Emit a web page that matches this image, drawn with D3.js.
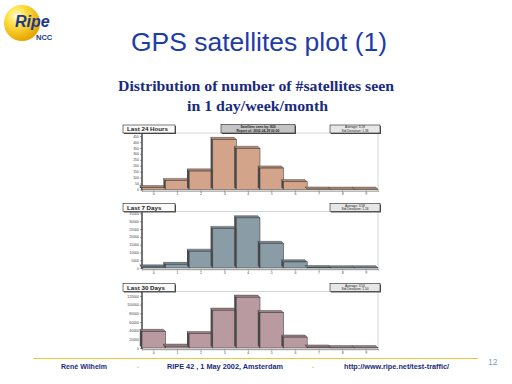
<!DOCTYPE html>
<html>
<head>
<meta charset="utf-8">
<script src="https://cdn.jsdelivr.net/npm/d3@7"></script>
<style>
  body { margin: 0; background: #fff; }
  svg { display: block; }
</style>
</head>
<body>
<svg id="slide" width="512" height="384"></svg>
<script>
// satellite counts 0..9
const categories = [0, 1, 2, 3, 4, 5, 6, 7, 8, 9];
const hours24 = [15, 75, 155, 420, 345, 180, 65, 3, 2, 2];
const days7 = [600, 2200, 10700, 25300, 32200, 15700, 3900, 200, 100, 100];
const days30 = [38000, 4000, 33000, 87000, 117000, 81500, 25000, 2000, 500, 500];

const ticks24 = [0, 50, 100, 150, 200, 250, 300, 350, 400, 450];
const ticks7 = [0, 5000, 10000, 15000, 20000, 25000, 30000, 35000];
const ticks30 = [0, 20000, 40000, 60000, 80000, 100000, 120000];

const periodLabels = ["Last 24 Hours", "Last 7 Days", "Last 30 Days"];
const statLabels = [
  ["Average: 3.18", "Std Deviation: 1.36"],
  ["Average: 3.58", "Std Deviation: 1.26"],
  ["Average: 3.54", "Std Deviation: 1.50"]
];
const reportLabels = ["Satellites seen by: 820", "Report of: 2002-04-29 00:00"];

const svg = d3.select("#slide");

// logo
const defs = svg.append("defs");
const grad = defs.append("radialGradient").attr("id", "ball")
  .attr("cx", "35%").attr("cy", "30%").attr("r", "70%");
grad.append("stop").attr("offset", "0%").attr("stop-color", "#fffbe0");
grad.append("stop").attr("offset", "35%").attr("stop-color", "#ffe34a");
grad.append("stop").attr("offset", "100%").attr("stop-color", "#e8a500");
svg.append("circle").attr("cx", 22).attr("cy", 23).attr("r", 18).attr("fill", "url(#ball)");
svg.append("text").attr("x", 15).attr("y", 27)
  .attr("font-family", "Liberation Sans, Arial").attr("font-weight", "bold").attr("font-style", "italic")
  .attr("font-size", 16).attr("fill", "#1a3890").text("Ripe");
svg.append("text").attr("x", 36).attr("y", 40)
  .attr("font-family", "Liberation Sans, Arial").attr("font-weight", "bold")
  .attr("font-size", 7.5).attr("fill", "#1a3890").text("NCC");

// titles
svg.append("text").attr("x", 131).attr("y", 51)
  .attr("font-family", "Liberation Sans, Arial").attr("font-size", 26)
  .attr("textLength", 256).attr("lengthAdjust", "spacingAndGlyphs")
  .attr("fill", "#1e3ca8").text("GPS satellites plot (1)");
svg.append("text").attr("x", 118).attr("y", 91)
  .attr("font-family", "Liberation Serif, Times New Roman").attr("font-weight", "bold").attr("font-size", 15)
  .attr("textLength", 276).attr("lengthAdjust", "spacingAndGlyphs")
  .attr("fill", "#182a80").text("Distribution of number of #satellites seen");
svg.append("text").attr("x", 187).attr("y", 111)
  .attr("font-family", "Liberation Serif, Times New Roman").attr("font-weight", "bold").attr("font-size", 15)
  .attr("textLength", 141).attr("lengthAdjust", "spacingAndGlyphs")
  .attr("fill", "#182a80").text("in 1 day/week/month");

// one histogram panel
function panel(opts) {
  const g = svg.append("g");
  const left = 142, right = 378;
  const x = d3.scaleBand().domain(categories).range([left, right]).padding(0);
  const y = d3.scaleLinear().domain([0, opts.ticks[opts.ticks.length - 1]]).range([opts.base, opts.topTick]);

  // frame
  g.append("rect").attr("x", left).attr("y", opts.top)
    .attr("width", right - left).attr("height", opts.base - opts.top + 2)
    .attr("fill", "#fff").attr("stroke", "#bbb").attr("stroke-width", 0.6);

  // y axis
  const yAxis = d3.axisLeft(y).tickValues(opts.ticks).tickFormat(d3.format("d")).tickSize(2).tickPadding(1);
  const ya = g.append("g").attr("transform", `translate(${left},0)`).call(yAxis);
  ya.select(".domain").attr("stroke", "#000").attr("stroke-width", 1);
  ya.selectAll("text").attr("font-size", 3.5).attr("fill", "#444").attr("font-family", "Liberation Sans, Arial");
  ya.selectAll("line").attr("stroke", "#444").attr("stroke-width", 0.5);
  ya.select(".domain").attr("d", `M0,${opts.top}V${opts.base + 1}`);

  // x axis
  const xAxis = d3.axisBottom(x).tickSize(1.5).tickPadding(1);
  const xa = g.append("g").attr("transform", `translate(0,${opts.base + 1})`).call(xAxis);
  xa.select(".domain").attr("stroke", "#777").attr("stroke-width", 0.6);
  xa.selectAll("text").attr("font-size", 3.5).attr("fill", "#444").attr("font-family", "Liberation Sans, Arial");
  xa.selectAll("line").attr("stroke", "#666").attr("stroke-width", 0.5);

  const d = 2.2; // 3D depth
  const bars = g.selectAll("g.bar").data(opts.values).enter().append("g").attr("class", "bar");
  bars.append("path")
    .attr("fill", "#4a4a4a")
    .attr("d", (v, i) => {
      const x0 = x(categories[i]), yt = y(v);
      return `M${x0},${yt}L${x0 - d},${yt - d}L${x0 - d},${opts.base - d}L${x0},${opts.base}Z`;
    });
  bars.append("path")
    .attr("fill", d3.color(opts.color).darker(0.5))
    .attr("stroke", "#333").attr("stroke-width", 0.4)
    .attr("d", (v, i) => {
      const x0 = x(categories[i]), x1 = x0 + x.bandwidth(), yt = y(v);
      return `M${x0},${yt}L${x0 - d},${yt - d}L${x1 - d},${yt - d}L${x1},${yt}Z`;
    });
  bars.append("rect")
    .attr("x", (v, i) => x(categories[i]))
    .attr("y", v => y(v))
    .attr("width", x.bandwidth())
    .attr("height", v => opts.base - y(v))
    .attr("fill", opts.color).attr("stroke", "#333").attr("stroke-width", 0.5);

  // header boxes
  function box(bx, by, bw, bh, fill) {
    g.append("rect").attr("x", bx + 1).attr("y", by + 1).attr("width", bw).attr("height", bh).attr("fill", "#555");
    g.append("rect").attr("x", bx).attr("y", by).attr("width", bw).attr("height", bh)
      .attr("fill", fill).attr("stroke", "#222").attr("stroke-width", 0.6);
  }
  const hy = opts.top - 8;
  box(123, hy, 52, 8, "#fafafa");
  g.append("text").attr("x", 127).attr("y", hy + 6).attr("font-size", 6.2).attr("font-weight", "bold")
    .attr("font-family", "Liberation Sans, Arial").attr("fill", "#222").text(opts.label);
  box(330, hy, 50, 8, "#e6e6e6");
  opts.stats.forEach((s, k) => {
    g.append("text").attr("x", 355).attr("y", hy + 3.4 + k * 3.4).attr("text-anchor", "middle")
      .attr("font-size", 3.2).attr("font-family", "Liberation Sans, Arial").attr("fill", "#222").text(s);
  });
  if (opts.report) {
    box(221, hy - 0.5, 74, 8.5, "#c4c4c4");
    opts.report.forEach((s, k) => {
      g.append("text").attr("x", 258).attr("y", hy + 3.2 + k * 3.6).attr("text-anchor", "middle")
        .attr("font-size", 3.3).attr("font-weight", "bold").attr("font-family", "Liberation Sans, Arial")
        .attr("fill", "#222").text(s);
    });
  }
}

panel({ values: hours24, ticks: ticks24, top: 133, base: 189.5, topTick: 136, color: "#d3a489",
  label: periodLabels[0], stats: statLabels[0], report: reportLabels });
panel({ values: days7, ticks: ticks7, top: 211.5, base: 268, topTick: 213.5, color: "#8a9ca6",
  label: periodLabels[1], stats: statLabels[1] });
panel({ values: days30, ticks: ticks30, top: 291.5, base: 348, topTick: 296, color: "#b99aa0",
  label: periodLabels[2], stats: statLabels[2] });

// footer
svg.append("line").attr("x1", 33).attr("x2", 478).attr("y1", 358.5).attr("y2", 358.5)
  .attr("stroke", "#e8c83a").attr("stroke-width", 1.2);
svg.append("text").attr("x", 488).attr("y", 365).attr("font-size", 8.5)
  .attr("font-family", "Liberation Sans, Arial").attr("fill", "#8a9ac0").text("12");
const footer = [
  { x: 61, w: 46, t: "René Wilhelm" },
  { x: 167, w: 116, t: "RIPE 42 , 1 May 2002,  Amsterdam" },
  { x: 344, w: 105, t: "http://www.ripe.net/test-traffic/" }
];
svg.selectAll("text.foot").data(footer).enter().append("text").attr("class", "foot")
  .attr("x", f => f.x).attr("y", 369).attr("textLength", f => f.w).attr("lengthAdjust", "spacingAndGlyphs")
  .attr("font-size", 7.5).attr("font-weight", "bold").attr("font-family", "Liberation Sans, Arial")
  .attr("fill", "#1a2a80").text(f => f.t);
svg.selectAll("circle.dot").data([138, 313]).enter().append("circle").attr("class", "dot")
  .attr("cx", c => c).attr("cy", 367.5).attr("r", 0.7).attr("fill", "#d8b840");
</script>
</body>
</html>
